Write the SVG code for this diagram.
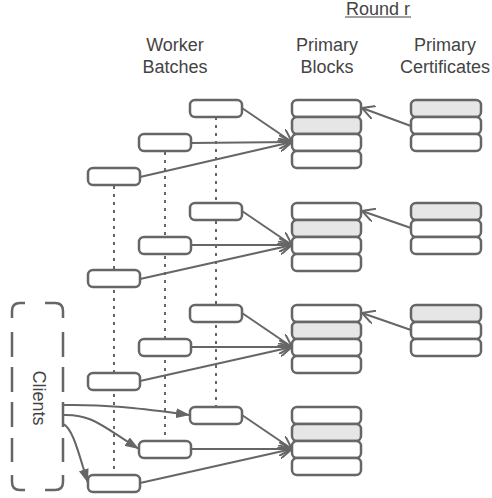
<svg xmlns="http://www.w3.org/2000/svg" width="492" height="498" viewBox="0 0 492 498">
<defs>
<style>
.t{font-family:"Liberation Sans",Arial,sans-serif;font-size:18px;fill:#444;text-anchor:middle}
.b{fill:#fff;stroke:#666;stroke-width:2.5}
.g{fill:#e6e6e6;stroke:#666;stroke-width:2.5}
.c{stroke:#666;stroke-width:2;fill:none}
.d{stroke:#666;stroke-width:2;fill:none;stroke-dasharray:3 5}
.k{stroke:#666;stroke-width:2.5;fill:none}
.a{marker-end:url(#open)}
.f{marker-end:url(#fill)}
</style>
<marker id="open" viewBox="0 0 14 14" refX="13" refY="7" markerWidth="14" markerHeight="14" markerUnits="userSpaceOnUse" orient="auto">
<path d="M0,0 L13,7 L0,14" fill="none" stroke="#666" stroke-width="2"/>
</marker>
<marker id="fill" viewBox="0 0 14 10" refX="14" refY="5" markerWidth="14" markerHeight="10" markerUnits="userSpaceOnUse" orient="auto">
<path d="M0,0 L14,5 L0,10 Z" fill="#666"/>
</marker>
</defs>
<rect width="492" height="498" fill="#fff"/>
<g id="labels">
<text class="t" x="378" y="15">Round r</text>
<line x1="345" y1="17" x2="411" y2="17" stroke="#444" stroke-width="1.2"/>
<text class="t" x="175" y="51">Worker</text>
<text class="t" x="175" y="73">Batches</text>
<text class="t" x="327" y="51">Primary</text>
<text class="t" x="327" y="73">Blocks</text>
<text class="t" x="445" y="51">Primary</text>
<text class="t" x="445" y="73">Certificates</text>
</g>
<g id="timelines">
<line class="d" x1="216" y1="117" x2="216" y2="407"/>
<line class="d" x1="165" y1="152" x2="165" y2="441"/>
<line class="d" x1="114" y1="186" x2="114" y2="475"/>
</g>
<g id="connectors">
<path class="c a" d="M242,108 L292,142"/>
<path class="c a" d="M191,143 L292,142"/>
<path class="c a" d="M140,177 L292,142"/>
<path class="c a" d="M242,211 L292,245"/>
<path class="c a" d="M191,245 L292,245"/>
<path class="c a" d="M140,279 L292,245"/>
<path class="c a" d="M242,313 L292,347"/>
<path class="c a" d="M191,347 L292,347"/>
<path class="c a" d="M140,381 L292,347"/>
<path class="c a" d="M242,415 L292,449"/>
<path class="c a" d="M191,449 L292,449"/>
<path class="c a" d="M140,483 L292,449"/>
<path class="c a" d="M411,126 L362,108"/>
<path class="c a" d="M411,228 L362,211"/>
<path class="c a" d="M411,330 L362,313"/>
<path class="c f" d="M63,405 C110,404 150,410 190,415"/>
<path class="c f" d="M63,415 C92,414 102,426 139,449"/>
<path class="c f" d="M63,424 C73,428 79,455 88,483"/>
</g>
<g id="clients">
<path class="k" d="M12,318 V311 Q12,303 20,303 H25 M45,303 H55 Q63,303 63,311 V318 M12,475 V482 Q12,490 20,490 H25 M45,490 H55 Q63,490 63,482 V475 M12,332 V357 M12,367 V392 M12,402 V427 M12,438 V462 M63,332 V357 M63,367 V392 M63,402 V427 M63,438 V462"/>
<text class="t" transform="translate(33,398) rotate(90)">Clients</text>
</g>
<g id="batches">
<rect class="b" x="190" y="100" width="52" height="17" rx="5"/>
<rect class="b" x="139" y="134" width="52" height="17" rx="5"/>
<rect class="b" x="88" y="168" width="52" height="17" rx="5"/>
<rect class="b" x="190" y="203" width="52" height="17" rx="5"/>
<rect class="b" x="139" y="237" width="52" height="17" rx="5"/>
<rect class="b" x="88" y="270" width="52" height="17" rx="5"/>
<rect class="b" x="190" y="305" width="52" height="17" rx="5"/>
<rect class="b" x="139" y="339" width="52" height="17" rx="5"/>
<rect class="b" x="88" y="373" width="52" height="17" rx="5"/>
<rect class="b" x="190" y="407" width="52" height="17" rx="5"/>
<rect class="b" x="139" y="441" width="52" height="17" rx="5"/>
<rect class="b" x="88" y="475" width="52" height="17" rx="5"/>
</g>
<g id="blocks1">
<rect class="b" x="292" y="100" width="69" height="17" rx="5"/>
<rect class="g" x="292" y="117" width="69" height="17" rx="5"/>
<rect class="b" x="292" y="134" width="69" height="17" rx="5"/>
<rect class="b" x="292" y="151" width="69" height="17" rx="5"/>
</g>
<g id="blocks2">
<rect class="b" x="292" y="203" width="69" height="17" rx="5"/>
<rect class="g" x="292" y="220" width="69" height="17" rx="5"/>
<rect class="b" x="292" y="237" width="69" height="17" rx="5"/>
<rect class="b" x="292" y="254" width="69" height="17" rx="5"/>
</g>
<g id="blocks3">
<rect class="b" x="292" y="305" width="69" height="17" rx="5"/>
<rect class="g" x="292" y="322" width="69" height="17" rx="5"/>
<rect class="b" x="292" y="339" width="69" height="17" rx="5"/>
<rect class="b" x="292" y="356" width="69" height="17" rx="5"/>
</g>
<g id="blocks4">
<rect class="b" x="292" y="407" width="69" height="17" rx="5"/>
<rect class="g" x="292" y="424" width="69" height="17" rx="5"/>
<rect class="b" x="292" y="441" width="69" height="17" rx="5"/>
<rect class="b" x="292" y="458" width="69" height="17" rx="5"/>
</g>
<g id="certs1">
<rect class="g" x="411" y="100" width="70" height="17" rx="5"/>
<rect class="b" x="411" y="117" width="70" height="17" rx="5"/>
<rect class="b" x="411" y="134" width="70" height="17" rx="5"/>
</g>
<g id="certs2">
<rect class="g" x="411" y="203" width="70" height="17" rx="5"/>
<rect class="b" x="411" y="220" width="70" height="17" rx="5"/>
<rect class="b" x="411" y="237" width="70" height="17" rx="5"/>
</g>
<g id="certs3">
<rect class="g" x="411" y="305" width="70" height="17" rx="5"/>
<rect class="b" x="411" y="322" width="70" height="17" rx="5"/>
<rect class="b" x="411" y="339" width="70" height="17" rx="5"/>
</g>
</svg>
